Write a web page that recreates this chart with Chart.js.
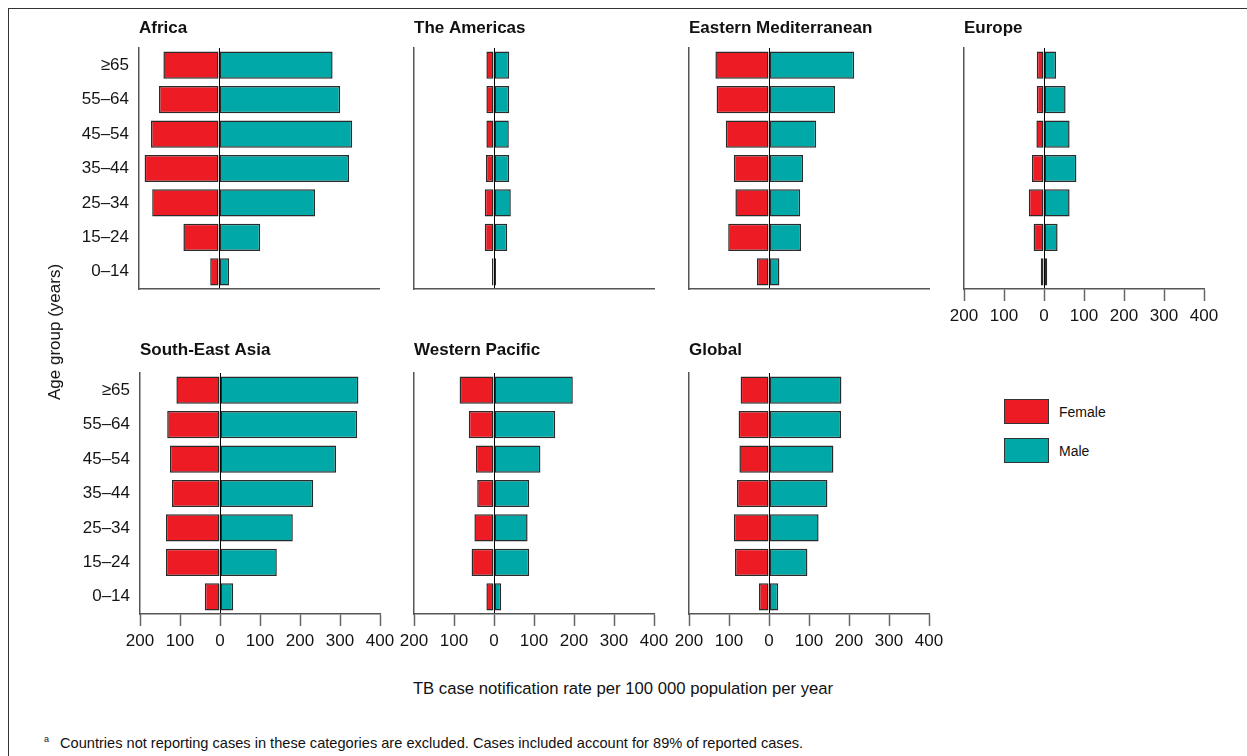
<!DOCTYPE html>
<html>
<head>
<meta charset="utf-8">
<title>TB case notification rates by age group and sex</title>
<script src="https://cdn.jsdelivr.net/npm/chart.js@4.4.1/dist/chart.umd.min.js"></script>
<style>
  html, body { margin: 0; padding: 0; background: #fff; }
  body { width: 1247px; height: 756px; position: relative; overflow: hidden;
         font-family: "Liberation Sans", Arial, sans-serif; color: #111; }
  .frame { position: absolute; left: 8px; top: 8px; width: 1260px; height: 770px;
           border-top: 1.5px solid #333; border-left: 1.5px solid #333; }
  canvas.panel { position: absolute; }
  .ytitle { position: absolute; left: 55px; top: 332px; font-size: 17px; white-space: nowrap;
            transform: translate(-50%, -50%) rotate(-90deg); }
  .xtitle { position: absolute; left: 623px; top: 689px; font-size: 16.7px; white-space: nowrap;
            transform: translate(-50%, -50%); }
  .note { position: absolute; left: 44px; top: 743px; font-size: 14.6px; white-space: nowrap;
          transform: translateY(-50%); }
  .note sup { font-size: 9px; margin-right: 11px; position: relative; top: -1px; }
  .legend { position: absolute; left: 1004px; top: 399px; }
  .legend .item { display: flex; align-items: center; height: 25px; margin-bottom: 14px; }
  .legend .swatch { width: 45px; height: 25px; box-sizing: border-box; border: 1.5px solid #333; }
  .legend .text { margin-left: 10px; font-size: 14px; }
</style>
</head>
<body>
<div class="frame"></div>
<div id="panels"></div>
<div class="ytitle">Age group (years)</div>
<div class="xtitle">TB case notification rate per 100 000 population per year</div>
<div class="note"><sup>a</sup>Countries not reporting cases in these categories are excluded. Cases included account for 89% of reported cases.</div>
<div class="legend" id="legend"></div>

<script>
// Age groups, top to bottom
const ageGroups = ['≥65', '55–64', '45–54', '35–44', '25–34', '15–24', '0–14'];

// Region names in panel order
const regions = ['Africa', 'The Americas', 'Eastern Mediterranean', 'Europe',
                 'South-East Asia', 'Western Pacific', 'Global'];

// Series names
const seriesNames = ['Female', 'Male'];

// Notification rates per 100 000 population per year, by age group
const femaleAfrica    = [139, 150, 170, 186, 167, 89, 22];
const maleAfrica      = [284, 303, 333, 325, 240, 103, 25];
const femaleAmericas  = [19, 19, 19, 20, 23, 23, 5];
const maleAmericas    = [38, 38, 37, 38, 42, 33, 5];
const femaleEastMed   = [134, 131, 108, 88, 84, 102, 30];
const maleEastMed     = [213, 165, 118, 85, 78, 80, 26];
const femaleEurope    = [18, 18, 19, 30, 38, 26, 8];
const maleEurope      = [30, 54, 64, 81, 64, 34, 8];
const femaleSEAsia    = [109, 132, 125, 120, 135, 135, 38];
const maleSEAsia      = [346, 343, 290, 233, 182, 142, 33];
const femaleWPacific  = [86, 63, 45, 42, 49, 56, 19];
const maleWPacific    = [197, 153, 116, 88, 84, 88, 18];
const femaleGlobal    = [71, 76, 74, 80, 88, 85, 25];
const maleGlobal      = [181, 180, 161, 146, 124, 96, 23];

// Rate axis range and tick step
const rateMin = -200;
const rateMax = 400;
const rateStep = 100;

const femaleByRegion = [femaleAfrica, femaleAmericas, femaleEastMed, femaleEurope,
                        femaleSEAsia, femaleWPacific, femaleGlobal];
const maleByRegion   = [maleAfrica, maleAmericas, maleEastMed, maleEurope,
                        maleSEAsia, maleWPacific, maleGlobal];

// ---- styling ----
const FONT = '"Liberation Sans", Arial, sans-serif';
const RED = '#ED1C24';
const TEAL = '#00A8A8';
const EDGE = '#2b2b2b';
const AXIS = '#555';
const TEXT = '#141414';
const seriesColors = [RED, TEAL];

Chart.defaults.font.family = FONT;
Chart.defaults.color = TEXT;

// ---- panel geometry (plot-area origin of each panel) ----
const PLOT_W = 240, PLOT_H = 241, TOP_AREA = 48, XH = 50, PAD_R = 20;
const layoutSpec = [
  { left: 139, top: 48,  yLabels: true,  xLabels: false, padTop: 18, titleGap: 9.6 },
  { left: 414, top: 48,  yLabels: false, xLabels: false, padTop: 18, titleGap: 9.6 },
  { left: 689, top: 48,  yLabels: false, xLabels: false, padTop: 18, titleGap: 9.6 },
  { left: 964, top: 48,  yLabels: false, xLabels: true,  padTop: 18, titleGap: 9.6 },
  { left: 140, top: 373, yLabels: true,  xLabels: true,  padTop: 15, titleGap: 12.6 },
  { left: 414, top: 373, yLabels: false, xLabels: true,  padTop: 15, titleGap: 12.6 },
  { left: 689, top: 373, yLabels: false, xLabels: true,  padTop: 15, titleGap: 12.6 }
];

const host = document.getElementById('panels');

regions.forEach((name, i) => {
  const spec = layoutSpec[i];
  const yw = spec.yLabels ? 110 : 30;
  const canvas = document.createElement('canvas');
  canvas.className = 'panel';
  const w = yw + PLOT_W + PAD_R;
  const h = TOP_AREA + PLOT_H + XH;
  canvas.width = w; canvas.height = h;
  canvas.style.width = w + 'px'; canvas.style.height = h + 'px';
  canvas.style.left = (spec.left - yw) + 'px';
  canvas.style.top = (spec.top - TOP_AREA) + 'px';
  host.appendChild(canvas);

  const barStyle = {
    borderColor: EDGE, borderWidth: 1.5, borderSkipped: false,
    barPercentage: 0.79, categoryPercentage: 1
  };

  new Chart(canvas.getContext('2d'), {
    type: 'bar',
    data: {
      labels: ageGroups,
      datasets: [
        Object.assign({ label: seriesNames[0], data: femaleByRegion[i].map(v => -v),
                        backgroundColor: seriesColors[0] }, barStyle),
        Object.assign({ label: seriesNames[1], data: maleByRegion[i],
                        backgroundColor: seriesColors[1] }, barStyle)
      ]
    },
    options: {
      indexAxis: 'y',
      responsive: false,
      animation: false,
      devicePixelRatio: 1,
      layout: { padding: { top: spec.padTop, right: PAD_R, bottom: 0, left: 0 } },
      plugins: {
        legend: { display: false },
        tooltip: { enabled: false },
        title: {
          display: true, text: name, align: 'start', fullSize: false,
          color: '#111', font: { size: 17, weight: 'bold', family: FONT, lineHeight: 1.2 },
          padding: { top: 0, bottom: spec.titleGap }
        }
      },
      scales: {
        x: {
          type: 'linear', min: rateMin, max: rateMax, stacked: true,
          afterFit: s => { s.height = XH; },
          border: { display: true, color: AXIS, width: 1.5 },
          grid: {
            color: ctx => (ctx.tick && ctx.tick.value === 0) ? '#000' : 'rgba(0,0,0,0)',
            lineWidth: 1,
            drawTicks: spec.xLabels, tickLength: 12, tickColor: '#666', tickWidth: 1.5
          },
          ticks: {
            display: spec.xLabels, stepSize: rateStep, autoSkip: false, maxRotation: 0,
            padding: 5, color: TEXT, font: { size: 17, family: FONT },
            callback: v => String(Math.abs(v))
          }
        },
        y: {
          type: 'category', stacked: true,
          afterFit: s => { s.width = yw; },
          border: { display: true, color: AXIS, width: 1.5 },
          grid: { color: 'rgba(0,0,0,0)', drawTicks: false },
          ticks: { display: spec.yLabels, padding: 10, color: TEXT, font: { size: 17, family: FONT } }
        }
      }
    }
  });
});

// Legend built from the series names and colours
const legend = document.getElementById('legend');
seriesNames.forEach((s, k) => {
  const item = document.createElement('div');
  item.className = 'item';
  item.innerHTML = '<div class="swatch" style="background:' + seriesColors[k] + '"></div>' +
                   '<div class="text">' + s + '</div>';
  legend.appendChild(item);
});
</script>
</body>
</html>
